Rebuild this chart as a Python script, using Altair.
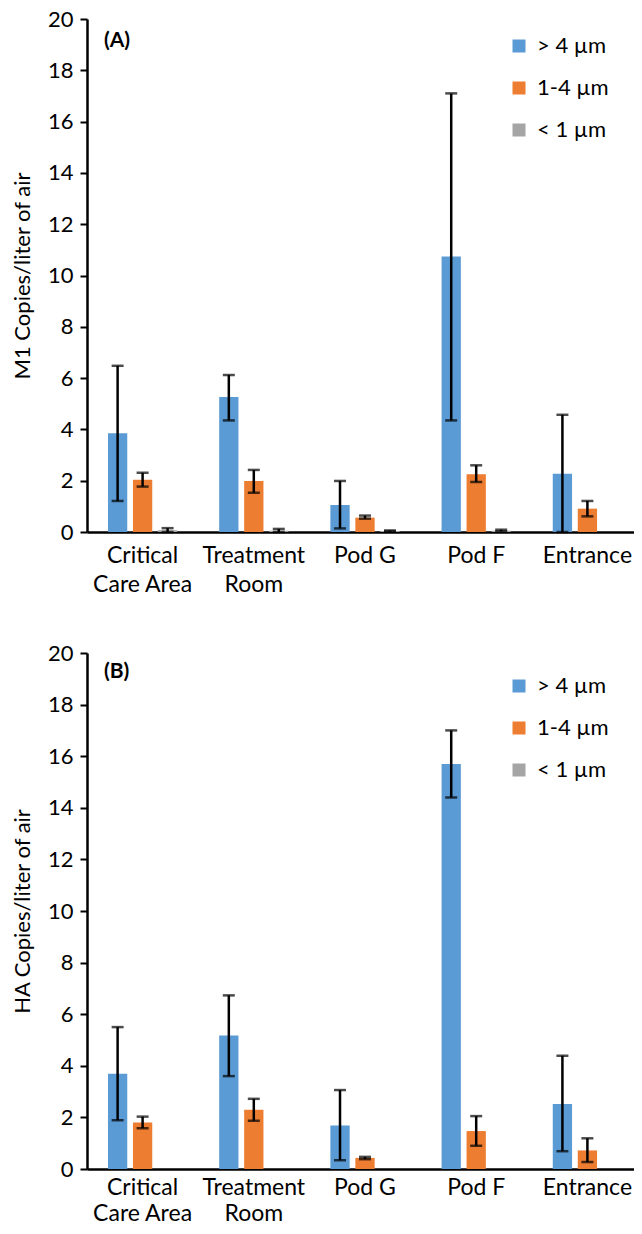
import altair as alt
import pandas as pd

locations = ["Critical Care Area", "Treatment Room", "Pod G", "Pod F", "Entrance"]
sizes = ["> 4 µm", "1-4 µm", "< 1 µm"]
colors = ["#5B9BD5", "#ED7D31", "#A5A5A5"]

# Panel A: M1
m1_gt4 = [3.85, 5.26, 1.05, 10.74, 2.27]
m1_gt4_lo = [1.21, 4.35, 0.14, 4.35, 0.0]
m1_gt4_hi = [6.48, 6.12, 1.99, 17.10, 4.57]
m1_mid = [2.04, 1.99, 0.56, 2.25, 0.91]
m1_mid_lo = [1.77, 1.53, 0.52, 1.95, 0.61]
m1_mid_hi = [2.31, 2.42, 0.64, 2.60, 1.21]
m1_lt1 = [0.07, 0.05, 0.04, 0.05, None]
m1_lt1_lo = [0.00, 0.00, 0.02, 0.02, None]
m1_lt1_hi = [0.15, 0.12, 0.06, 0.09, None]

# Panel B: HA
ha_gt4 = [3.69, 5.17, 1.69, 15.70, 2.52]
ha_gt4_lo = [1.89, 3.60, 0.34, 14.40, 0.69]
ha_gt4_hi = [5.50, 6.73, 3.06, 17.00, 4.39]
ha_mid = [1.80, 2.30, 0.43, 1.47, 0.72]
ha_mid_lo = [1.58, 1.87, 0.38, 0.90, 0.27]
ha_mid_hi = [2.03, 2.72, 0.47, 2.05, 1.19]


def make_df(series):
    rows = []
    for size, (vals, lo, hi) in zip(sizes, series):
        for loc, v, l, h in zip(locations, vals, lo, hi):
            if v is None:
                continue
            rows.append({"location": loc, "size": size, "value": v, "lo": l, "hi": h})
    return pd.DataFrame(rows)


df_a = make_df([(m1_gt4, m1_gt4_lo, m1_gt4_hi),
                (m1_mid, m1_mid_lo, m1_mid_hi),
                (m1_lt1, m1_lt1_lo, m1_lt1_hi)])
df_b = make_df([(ha_gt4, ha_gt4_lo, ha_gt4_hi),
                (ha_mid, ha_mid_lo, ha_mid_hi)])

FONT = "Lato"

label_expr = ("datum.label == 'Critical Care Area' ? ['Critical', 'Care Area'] : "
              "datum.label == 'Treatment Room' ? ['Treatment', 'Room'] : datum.label")


def panel(df, ytitle, tag, height, legend_y, tag_y, lab_pad, lab_lh):
    x = alt.X("location:N", sort=locations, title=None,
              scale=alt.Scale(domain=locations, paddingInner=0.326, paddingOuter=0.163),
              axis=alt.Axis(labelAngle=0, ticks=False, domainColor="black", domainWidth=2.5,
                            labelFont=FONT, labelFontSize=23, labelColor="black",
                            labelPadding=lab_pad, labelLineHeight=lab_lh, labelExpr=label_expr))
    xo = alt.XOffset("size:N", sort=sizes,
                     scale=alt.Scale(domain=sizes, paddingInner=0.228, paddingOuter=0.114))
    y = alt.Y("value:Q", title=ytitle,
              scale=alt.Scale(domain=[0, 20], nice=False),
              axis=alt.Axis(values=list(range(0, 21, 2)), grid=False, domainColor="black",
                            domainWidth=2.5, tickColor="black", tickWidth=2, tickSize=7,
                            labelPadding=7, labelFont=FONT, labelFontSize=22, labelColor="black",
                            titleFont=FONT, titleFontSize=22, titleFontWeight="normal",
                            titleColor="black", titlePadding=13))
    color = alt.Color("size:N", sort=sizes, title=None,
                      scale=alt.Scale(domain=sizes, range=colors),
                      legend=alt.Legend(orient="none", legendX=421, legendY=legend_y,
                                        symbolType="square", symbolSize=169,
                                        symbolStrokeWidth=0, symbolOpacity=1,
                                        labelFont=FONT, labelFontSize=22, labelColor="black",
                                        labelOffset=7, rowPadding=20))
    base = alt.Chart(df)
    bars = base.mark_bar(opacity=1).encode(x=x, xOffset=xo, y=y, color=color)
    rule = base.mark_rule(color="black", strokeWidth=2.5).encode(
        x=alt.X("location:N", sort=locations), xOffset=alt.XOffset("size:N", sort=sizes),
        y="lo:Q", y2="hi:Q")
    cap_hi = base.mark_tick(color="black", orient="horizontal", size=12, thickness=2.5).encode(
        x=alt.X("location:N", sort=locations), xOffset=alt.XOffset("size:N", sort=sizes),
        y="hi:Q")
    cap_lo = base.mark_tick(color="black", orient="horizontal", size=12, thickness=2.5).encode(
        x=alt.X("location:N", sort=locations), xOffset=alt.XOffset("size:N", sort=sizes),
        y="lo:Q")
    tag_text = alt.Chart(pd.DataFrame({"t": [tag]})).mark_text(
        font=FONT, fontSize=21, fontWeight="bold", color="black", align="left",
        baseline="middle").encode(text="t:N", x=alt.value(17), y=alt.value(tag_y))
    return alt.layer(bars, rule, cap_hi, cap_lo, tag_text).properties(width=556, height=height)


top = panel(df_a, "M1 Copies/liter of air", "(A)", 513, 16, 22, 12, 29)
bottom = panel(df_b, "HA  Copies/liter of air", "(B)", 516, 22, 19, 7, 26)

chart = alt.vconcat(top, bottom, spacing=121, bounds="flush").resolve_scale(
    color="independent").properties(
    padding={"left": 3, "top": 0, "right": -9, "bottom": 0},
    background="white"
).configure_view(stroke=None)

chart.save("out.html", embed_options={"renderer": "svg", "actions": False})
